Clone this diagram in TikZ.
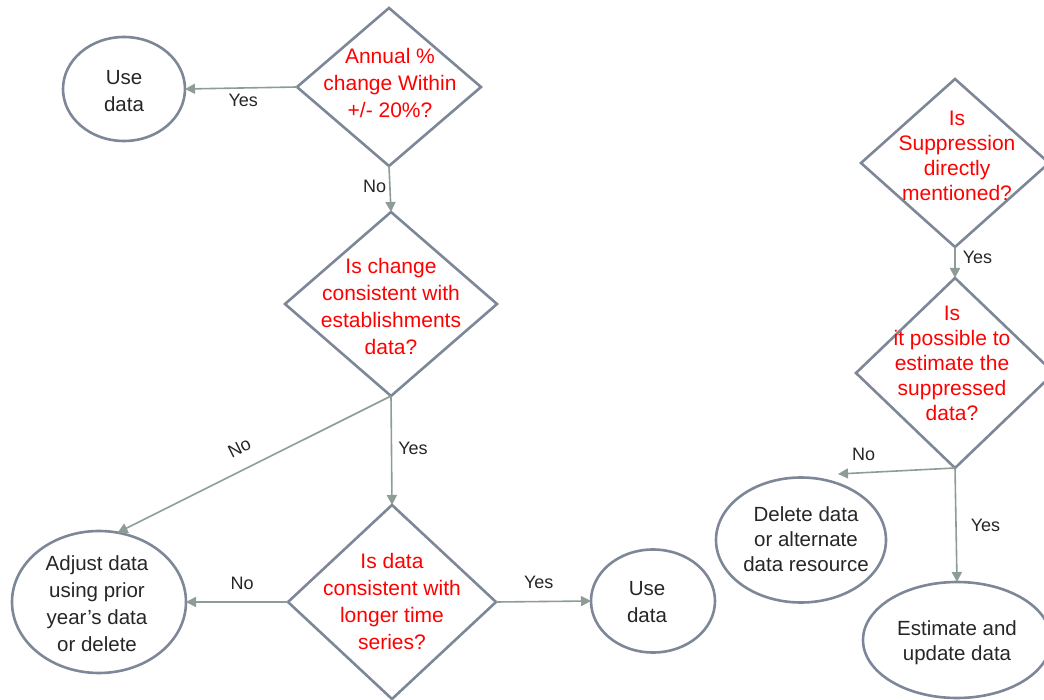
\documentclass[tikz,border=0pt]{standalone}
\usepackage{fontspec}
\setmainfont{Liberation Sans}
\usetikzlibrary{shapes.geometric,arrows.meta}
\definecolor{outl}{RGB}{125,135,152}
\definecolor{arr}{RGB}{142,156,150}
\definecolor{txt}{RGB}{38,38,38}
\definecolor{qred}{RGB}{255,0,0}
\begin{document}
\begin{tikzpicture}[x=1pt,y=-1pt,
 dia/.style={shape=diamond,draw=outl,line width=2.6pt,inner sep=0pt,outer sep=0pt},
 ell/.style={shape=ellipse,draw=outl,line width=2.6pt,inner sep=0pt,outer sep=0pt},
 qtext/.style={text=qred,align=center,font=\fontsize{21}{27}\selectfont,inner sep=0pt},
 etext/.style={text=txt,align=center,font=\fontsize{20.5}{27}\selectfont,inner sep=0pt},
 conn/.style={draw=arr,line width=1.6pt,-{Triangle[length=10pt,width=10pt]}},
 lbl/.style={text=txt,font=\fontsize{18}{20}\selectfont,inner sep=2pt}]
\useasboundingbox (0,0) rectangle (1044,700);
\clip (0,0) rectangle (1044,700);

\node[ell,minimum width=122pt,minimum height=104pt] (u1) at (124,89) {};
\node[etext] (u1t) at (124,91) {Use\\data};
\node[dia,minimum width=184pt,minimum height=158pt] (d1) at (389,87) {};
\node[qtext] (d1t) at (390,83) {Annual \%\\change Within\\+/- 20\%?};
\node[dia,minimum width=212pt,minimum height=184pt] (d2) at (391,304) {};
\node[qtext] (d2t) at (391,306) {Is change\\consistent with\\establishments\\data?};
\node[dia,minimum width=208pt,minimum height=194pt] (d3) at (392,602) {};
\node[qtext] (d3t) at (392,601) {Is data\\consistent with\\longer time\\series?};
\node[ell,minimum width=174pt,minimum height=142pt] (adj) at (99,602) {};
\node[etext] (adjt) at (97,604) {Adjust data\\using prior\\year’s data\\or delete};
\node[ell,minimum width=124pt,minimum height=103pt] (u2) at (653,601) {};
\node[etext] (u2t) at (647,602) {Use\\data};
\node[dia,minimum width=188pt,minimum height=168pt] (d4) at (955,163) {};
\node[qtext,font=\fontsize{21}{25}\selectfont] (d4t) at (957,156) {Is\\Suppression\\directly\\mentioned?};
\node[dia,minimum width=198pt,minimum height=190pt] (d5) at (955,373) {};
\node[qtext,font=\fontsize{21}{25}\selectfont] (d5t) at (952,363) {Is\\it possible to\\estimate the\\suppressed\\data?};
\node[ell,minimum width=170pt,minimum height=125pt] (del) at (801,540) {};
\node[etext,font=\fontsize{20.5}{25}\selectfont] (delt) at (806,539) {Delete data\\or alternate\\data resource};
\node[ell,minimum width=188pt,minimum height=116pt] (est) at (957,640) {};
\node[etext,font=\fontsize{20.5}{25}\selectfont] (estt) at (957,643) {Estimate and\\update data};
\coordinate (delIn) at (838,474);

\draw[conn] (d1.west) -- node[lbl,below=3pt,pos=0.48]{Yes} (u1.east);
\draw[conn] (d1.south) -- node[lbl,left=1pt,pos=0.45]{No} (d2.north);
\draw[conn] (d2.south) -- node[lbl,right=4pt,pos=0.48]{Yes} (d3.north);
\draw[conn] (d2.south) -- node[lbl,sloped,above=12pt,pos=0.52]{No} (adj.75);
\draw[conn] (d3.west) -- node[lbl,above=10pt,pos=0.45]{No} (adj.east);
\draw[conn] (d3.east) -- node[lbl,above=10pt,pos=0.45]{Yes} (u2.west);
\draw[conn] (d4.south) -- node[lbl,right=5pt,pos=0.35]{Yes} (d5.north);
\draw[conn] (d5.south) -- node[lbl,above=9pt,pos=0.78]{No} (delIn);
\draw[conn] (d5.south) -- node[lbl,right=12pt]{Yes} (est.north);
\end{tikzpicture}
\end{document}
